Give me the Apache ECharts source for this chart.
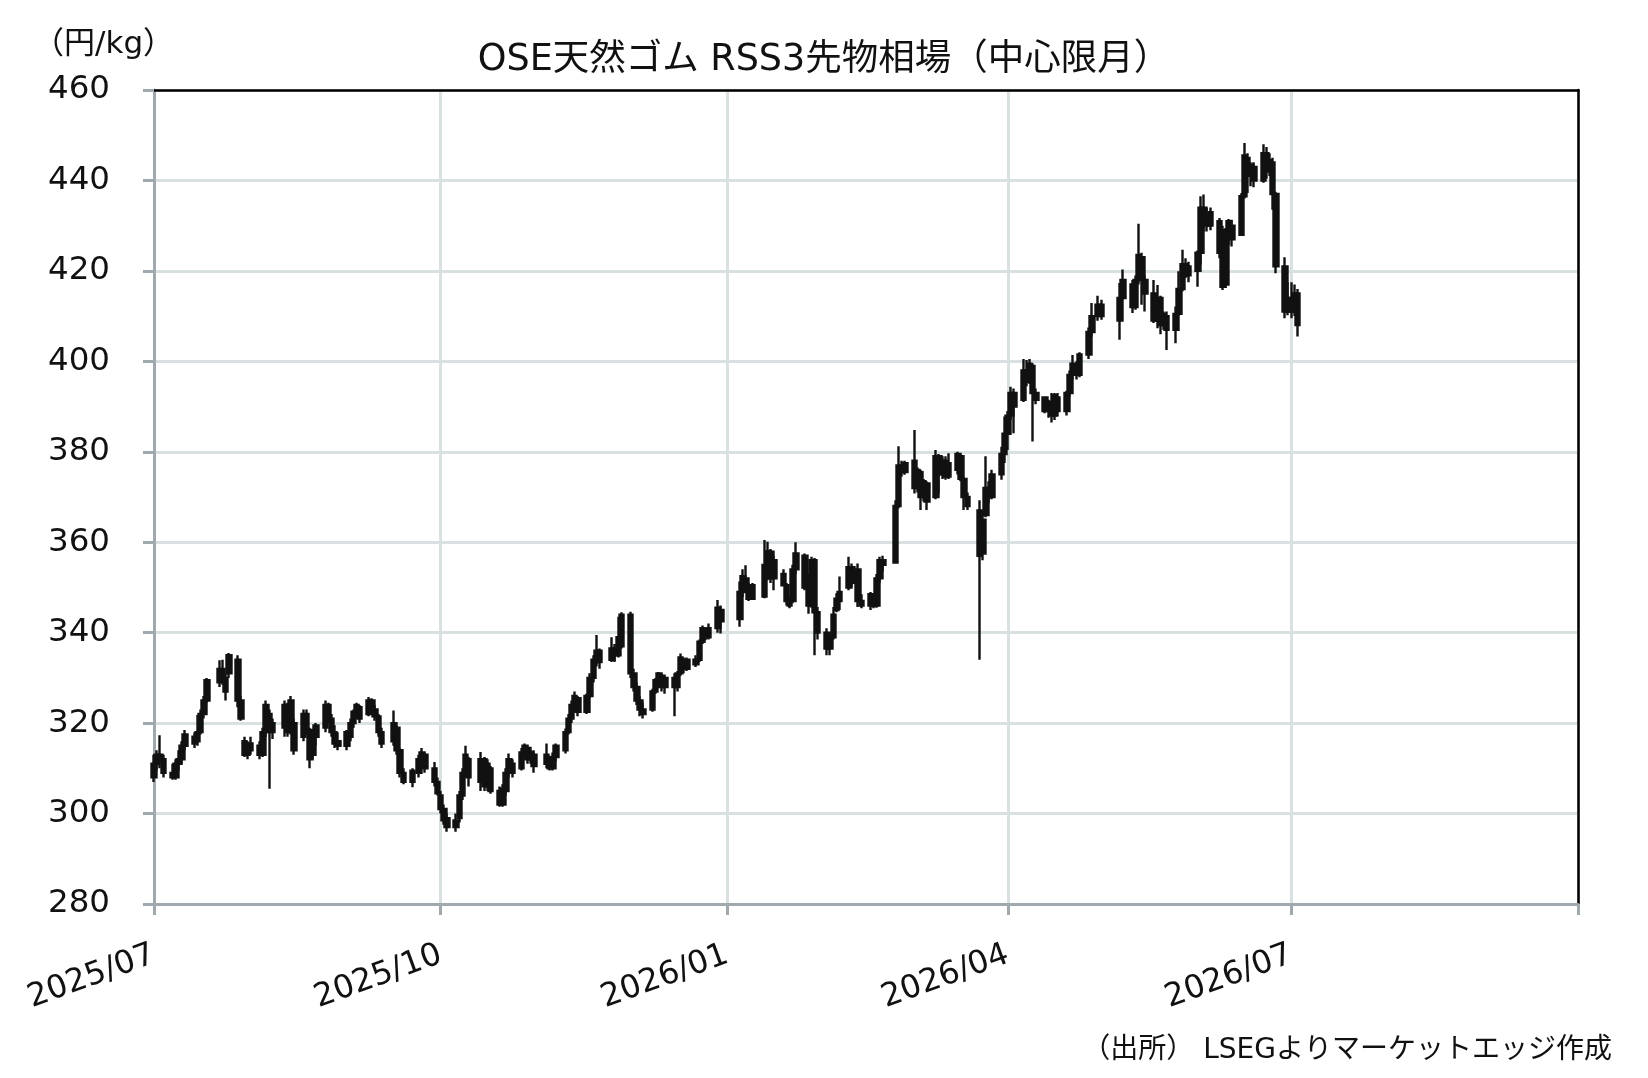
<!DOCTYPE html>
<html><head><meta charset="utf-8">
<script src="https://cdn.jsdelivr.net/npm/echarts@6/dist/echarts.min.js"></script>
<style>html,body{margin:0;padding:0;background:#fff}#c{width:1648px;height:1078px}</style>
</head><body><div id="c"></div><script>
// Chart texts
const titleText = 'OSE天然ゴム RSS3先物相場（中心限月）';
const unitText = '（円/kg）';
const sourceText = '（出所） LSEGよりマーケットエッジ作成';
// Axis ticks
const xTickLabels = ['2025/07', '2025/10', '2026/01', '2026/04', '2026/07', '2026/10'];
const yMin = 280, yMax = 460, yStep = 20;

// Daily candles: [date, open, close, low, high]
const q3_2025 = [
 ['2025-07-01',308,311,307,313],['2025-07-02',311,313,309.5,314],['2025-07-03',313,312,310,317.3],['2025-07-04',312,309,308,313],
 ['2025-07-07',309,308,307.5,311],['2025-07-08',308,311,307.5,312],['2025-07-09',311,312,309.5,314],['2025-07-10',312,315,311,316],['2025-07-11',315,317.5,314,318.5],
 ['2025-07-14',317,315.5,314.5,318],['2025-07-15',316,318,315,321.8],['2025-07-16',318,322,317.5,323],['2025-07-17',322,325,321,326],['2025-07-18',325,329.5,324.5,330],
 ['2025-07-22',329,332,328,333.9],['2025-07-23',332,330,328.5,334],['2025-07-24',330,327,325,331],['2025-07-25',331,335,330,335.5],
 ['2025-07-28',334,325,323.5,335],['2025-07-29',325,321,320.5,326],['2025-07-30',316,313,312.5,317],['2025-07-31',313,314.5,312,316],
 ['2025-08-01',314,315.5,313,317],['2025-08-04',315,313,312,316],['2025-08-05',313,318,312.5,319],['2025-08-06',318,324,317,325],['2025-08-07',322,318,305.5,323],['2025-08-08',318,320,316.5,321],
 ['2025-08-12',319,324,317,325],['2025-08-13',324,318,317,324.5],['2025-08-14',318,325,317.5,326],['2025-08-15',320,314,313,321],
 ['2025-08-18',317,322,316,323],['2025-08-19',322,318.5,317.5,323],['2025-08-20',318.5,312,310,319],['2025-08-21',313,317,312,318],['2025-08-22',317,319.5,315,320],
 ['2025-08-25',319,324,318,325],['2025-08-26',324,321,320,324.5],['2025-08-27',321,318,317,322],['2025-08-28',318,315.5,314.5,319.5],['2025-08-29',316,315,314,318],
 ['2025-09-01',315,318,314,318.5],['2025-09-02',317,320,316,321],['2025-09-03',320,322.5,319,323],['2025-09-04',322,324,321,324.5],['2025-09-05',323.5,321,320,324],
 ['2025-09-08',322,325,321.5,325.8],['2025-09-09',325,323,322,325.5],['2025-09-10',323,321.5,320.5,324],['2025-09-11',321.5,318,317,322],['2025-09-12',318,315.5,314.5,319],
 ['2025-09-16',316,320,315,322.8],['2025-09-17',319,314,313,319.5],['2025-09-18',314,309,308,314.5],['2025-09-19',309,307,306.5,310],
 ['2025-09-22',307,309.5,305.8,310],['2025-09-24',309,312,308,313],['2025-09-25',312,313.5,311,314.5],['2025-09-26',313,310,309,313.5],
 ['2025-09-29',310,307,306,311.4],['2025-09-30',307,304.5,304,308]
];
const q4_2025 = [
 ['2025-10-01',304,301,300,305],['2025-10-02',301,298.5,297.5,302],['2025-10-03',299,297,296,300],
 ['2025-10-06',297,298.5,296,300],['2025-10-07',299,304,298,305],['2025-10-08',304,309,303,310],['2025-10-09',309,313,308,315],['2025-10-10',312,308,306,312.5],
 ['2025-10-14',307,312,305,313.6],['2025-10-15',312,306,305,312.5],['2025-10-16',306,311,305,312],['2025-10-17',310,305,304.4,310.5],
 ['2025-10-20',305,302,301.5,306],['2025-10-21',302,305.5,301.5,306.5],['2025-10-22',305,309,304,310],['2025-10-23',309,312,308,313.3],['2025-10-24',311,309,308,312],
 ['2025-10-27',310,313.5,309.5,314.5],['2025-10-28',313,315,312,315.5],['2025-10-29',314.5,312,311,315],['2025-10-30',312,313.5,311,314],['2025-10-31',313,310.5,309,314],
 ['2025-11-04',313,311,310,315.5],['2025-11-05',311,310,309.5,312.5],['2025-11-06',310,312.5,309.5,313.5],['2025-11-07',312.5,315,311.5,315.5],
 ['2025-11-10',314,318,313.3,318.8],['2025-11-11',318,321,317.5,322],['2025-11-12',321,324,320,325],['2025-11-13',323.5,326,322.5,327],['2025-11-14',325.5,322.5,321.5,326],
 ['2025-11-17',322.5,326,322,326.5],['2025-11-18',326,330,325.5,331],['2025-11-19',330,334,329,335],['2025-11-20',333.5,336,332.5,339.5],['2025-11-21',336,333.5,332,336.5],
 ['2025-11-25',334,336.5,333.5,339],['2025-11-26',336.5,335,333.5,337.5],['2025-11-27',335,339,334.5,343.5],['2025-11-28',337,344,336.5,344.5],
 ['2025-12-01',344,331,330,344.6],['2025-12-02',331,328,327,332],['2025-12-03',328,325,324,329],['2025-12-04',325,323,321.5,326],['2025-12-05',323,322,321,324.5],
 ['2025-12-08',323,327,322.5,327.6],['2025-12-09',327,329.5,326.5,330],['2025-12-10',329,331,328,331.3],['2025-12-11',330.5,328,327,331],['2025-12-12',328,330,326.5,330.5],
 ['2025-12-15',330,328,321.5,331],['2025-12-16',328,331,327,331.5],['2025-12-17',331,334.5,330.5,335.4],['2025-12-18',334,332,331,334.5],['2025-12-19',332,334,331.5,334.5],
 ['2025-12-22',334,333,332.4,335],['2025-12-23',334,338,333.5,338.5],['2025-12-24',338,341,337.5,341.6],['2025-12-25',340.5,339,338.3,341],['2025-12-26',339,341,338.5,342],
 ['2025-12-29',341,345.5,340,347.2],['2025-12-30',345,342.5,339.8,346]
];
const q1_2026 = [
 ['2026-01-05',343,349,341.3,351.3],['2026-01-06',349,352.5,347.9,354],['2026-01-07',352,350,349,354.9],['2026-01-08',350,347.5,347,351],['2026-01-09',347.5,350.5,347.2,351],
 ['2026-01-13',348,355,347.6,360.5],['2026-01-14',355,358,351.6,360.1],['2026-01-15',357.9,352,351,358.5],['2026-01-16',352,356,349.4,357],
 ['2026-01-19',353,350.5,350.2,354],['2026-01-20',350.5,347,346,351],['2026-01-21',347,346,345.4,348],['2026-01-22',347,354,346.5,355],['2026-01-23',354,357.5,353,360],
 ['2026-01-26',357,350,349.4,357.5],['2026-01-27',350,346,344.2,353],['2026-01-28',346,356,345.5,356.8],['2026-01-29',356,344.5,335,356.5],['2026-01-30',344.5,340,338.5,345.7],
 ['2026-02-02',340,336.5,335,341],['2026-02-03',336.5,339,335,340],['2026-02-04',339,344,338.5,345.7],['2026-02-05',345,347.5,344.5,348.7],['2026-02-06',347,349,345,352.4],
 ['2026-02-09',350,354.5,349.4,356.8],['2026-02-10',354.5,351,350.2,355.3],['2026-02-12',354,347,345.7,355.3],['2026-02-13',347,346,345.4,348.5],
 ['2026-02-16',346,348.5,345,349],['2026-02-17',348,346,345.4,348.7],['2026-02-18',346,352,345.5,353],['2026-02-19',352,356,351,356.8],['2026-02-20',356,355,353.5,357],
 ['2026-02-24',355.5,368,355.3,369.3],['2026-02-25',368,377,367.5,381.2],['2026-02-26',377,375.5,374.5,378],['2026-02-27',375.5,377.5,374.9,378],
 ['2026-03-02',378,372,370.8,384.8],['2026-03-03',372.5,376,371,376.5],['2026-03-04',375.5,370,367.1,376],['2026-03-05',370,373.5,369,374],['2026-03-06',373,369,367.1,373.5],
 ['2026-03-09',370,379,369.5,380.4],['2026-03-10',379,375,370.8,379.5],['2026-03-11',375,378,374,379],['2026-03-12',378,374.5,373.8,379],['2026-03-13',374.5,377.5,374,379.7],
 ['2026-03-16',376,379.5,375,380],['2026-03-17',379,374,373.5,379.5],['2026-03-18',374,370,367.1,374.5],['2026-03-19',370,368,367.1,371],
 ['2026-03-23',367,357,334,369.3],['2026-03-24',357.5,365,356,367],['2026-03-25',366,372,365.5,379],['2026-03-26',372,370,368.6,373.5],['2026-03-27',370,375,369.5,376],
 ['2026-03-30',375,379.5,373.8,381.1],['2026-03-31',379.5,384,377.5,387.8]
];
const q2_2026 = [
 ['2026-04-01',384,388,380.4,389],['2026-04-02',388,393,387,394.4],['2026-04-03',393,390,384.1,394],
 ['2026-04-06',391.5,398,391,400.5],['2026-04-07',398,395.5,394.5,400.3],['2026-04-08',396,399.5,395,400.5],['2026-04-09',399,393,382.3,399.6],['2026-04-10',393,391.5,390.5,394],
 ['2026-04-13',392,389,388.5,392.2],['2026-04-14',389,391,387.5,391.5],['2026-04-15',391,388,386.5,393],['2026-04-16',388,392.5,387,393],['2026-04-17',392,389,387.8,393],
 ['2026-04-20',389,393,388,393.5],['2026-04-21',393,397,392.2,398],['2026-04-22',397,399.5,396,401.4],['2026-04-23',399,397,396,400],['2026-04-24',397,401.5,396.5,402],
 ['2026-04-27',401.5,406.5,400.5,407.5],['2026-04-28',406.5,410,405.5,412.9],['2026-04-30',410,412.5,409,414.5],
 ['2026-05-01',412.5,410,409.2,413.6],['2026-05-07',409,414,404.8,417.3],['2026-05-08',414,418,413.6,420.3],
 ['2026-05-11',417,412,410.7,418],['2026-05-12',412,418,411.4,419],['2026-05-13',418,423.5,417,430.4],['2026-05-14',423,418,412.5,424],['2026-05-15',418,415,411,419],
 ['2026-05-18',415,409,408.5,418],['2026-05-19',409,414,407.3,416.9],['2026-05-20',414,408,406,414.5],['2026-05-21',408,410.5,407,411],['2026-05-22',410,407,402.5,411],
 ['2026-05-25',407,410.5,404,412.1],['2026-05-26',410.5,416,410,419.9],['2026-05-27',416,421.5,415.5,424.7],['2026-05-28',421.5,419,418.4,422.8],['2026-05-29',419,421,417.5,422],
 ['2026-06-01',420,424,416.5,424.5],['2026-06-02',424,434,421.4,436.5],['2026-06-03',434,431.5,428.7,436.9],['2026-06-04',431.5,430,428.7,433.9],['2026-06-05',430,433,429,434],
 ['2026-06-08',431,424,422.8,431.7],['2026-06-09',429,416.5,415.8,430],['2026-06-10',417,429,416.2,429.5],['2026-06-11',429,431,425.8,431.5],['2026-06-12',430,427,425.4,431.3],
 ['2026-06-15',428,436.5,428,437.2],['2026-06-16',436.5,445.5,436,448.3],['2026-06-17',445,441,437.2,446],['2026-06-18',441,443.5,438.7,444],['2026-06-19',443,440,438.5,444],
 ['2026-06-22',440,446,439.5,448],['2026-06-23',446,442,440.4,447.4],['2026-06-24',442,444.5,441,446],['2026-06-25',444,437,433.5,445],['2026-06-26',437,421,419.5,437.5],
 ['2026-06-29',421,411,409.5,423],['2026-06-30',411,414,410.2,417.5]
];
const q3_2026 = [
 ['2026-07-01',414,411,409.5,417.5],['2026-07-02',411,415,410,417],['2026-07-03',415,408,405.5,416]
];

function parseYm(s) { const p = s.split('/'); return Date.UTC(+p[0], +p[1] - 1, 1); }
function parseYmd(s) { const p = s.split('-'); return Date.UTC(+p[0], +p[1] - 1, +p[2]); }
const tickTimes = xTickLabels.map(parseYm);
const labelMap = {};
xTickLabels.forEach(function (l, i) { labelMap[tickTimes[i]] = l; });

const candles = [].concat(q3_2025, q4_2025, q1_2026, q2_2026, q3_2026)
  .map(function (r) { return [parseYmd(r[0]), r[1], r[2], r[3], r[4]]; });

const FONT = "'DejaVu Sans', 'Noto Sans CJK JP', sans-serif";
const AXIS_GRAY = '#9fa9ae';
const GRID_GRAY = '#d8e0e2';

const chart = echarts.init(document.getElementById('c'), null, { renderer: 'canvas' });
chart.setOption({
  animation: false,
  backgroundColor: '#ffffff',
  title: {
    text: titleText, left: 'center', top: 37,
    textStyle: { fontFamily: FONT, fontSize: 36.5, fontWeight: 'normal', color: '#111' }
  },
  grid: { left: 154, right: 70, top: 90, bottom: 174, containLabel: false },
  xAxis: [{
    type: 'value',
    min: tickTimes[0], max: tickTimes[tickTimes.length - 1],
    axisLine: { show: true, lineStyle: { color: AXIS_GRAY, width: 3 } },
    axisTick: { show: true, length: 11, customValues: tickTimes, lineStyle: { color: AXIS_GRAY, width: 3 } },
    axisLabel: {
      customValues: tickTimes.slice(0, tickTimes.length - 1),
      rotate: 20, margin: 50, fontFamily: FONT, fontSize: 32, color: '#111',
      formatter: function (v) { return labelMap[v] !== undefined ? labelMap[v] : ''; }
    },
    splitLine: { show: true, lineStyle: { color: GRID_GRAY, width: 3 } }
  }, {
    type: 'value', position: 'top', min: 0, max: 1,
    axisLine: { show: true, onZero: false, lineStyle: { color: '#000', width: 2.5 } },
    axisTick: { show: false }, axisLabel: { show: false }, splitLine: { show: false }
  }],
  yAxis: [{
    type: 'value', min: yMin, max: yMax, interval: yStep,
    axisLine: { show: true, lineStyle: { color: AXIS_GRAY, width: 3 } },
    axisTick: { show: true, length: 11, lineStyle: { color: AXIS_GRAY, width: 3 } },
    axisLabel: { margin: 44, fontFamily: FONT, fontSize: 32.5, color: '#111' },
    splitLine: { show: true, lineStyle: { color: GRID_GRAY, width: 3 } }
  }, {
    type: 'value', position: 'right', min: 0, max: 1,
    axisLine: { show: true, onZero: false, lineStyle: { color: '#000', width: 2.5 } },
    axisTick: { show: false }, axisLabel: { show: false }, splitLine: { show: false }
  }],
  graphic: [{
    type: 'text', left: 33, top: 29,
    style: { text: unitText, font: "31px 'DejaVu Sans', 'Noto Sans CJK JP', sans-serif", fill: '#111' }
  }, {
    type: 'text', right: 36, top: 1037,
    style: { text: sourceText, font: "28px 'DejaVu Sans', 'Noto Sans CJK JP', sans-serif", fill: '#111' }
  }],
  series: [{
    type: 'candlestick',
    xAxisIndex: 0, yAxisIndex: 0,
    data: candles,
    barWidth: 5,
    itemStyle: { color: '#111', color0: '#111', borderColor: '#111', borderColor0: '#111', borderColorDoji: '#111', borderWidth: 2.4 }
  }]
});
</script></body></html>
